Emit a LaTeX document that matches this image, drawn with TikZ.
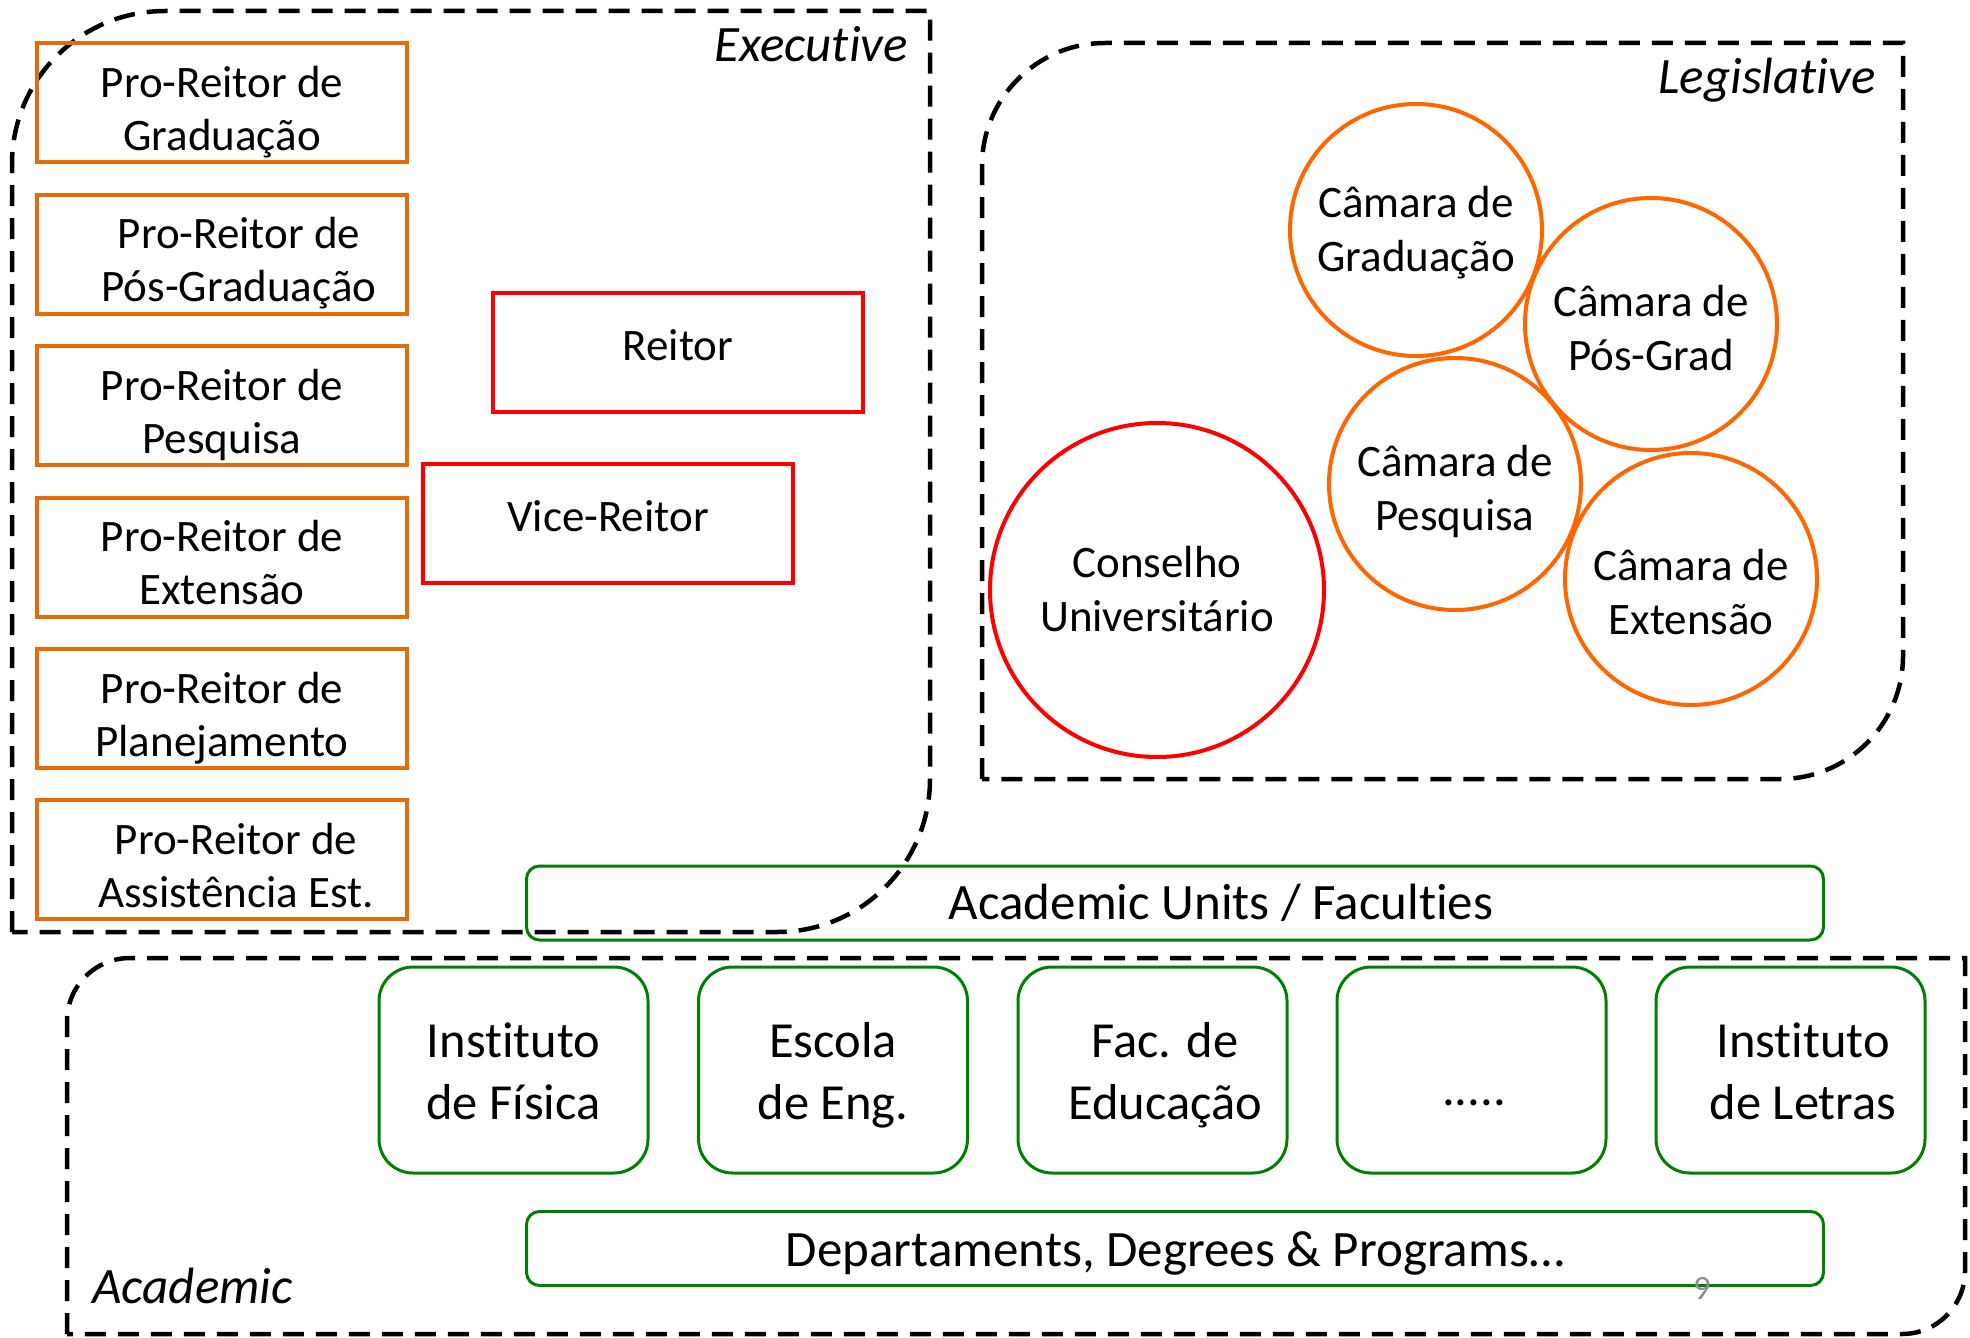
\documentclass[tikz,border=0pt]{standalone}
\usepackage{fontspec}
\setmainfont{Carlito}[Ligatures=NoCommon]
\definecolor{prorange}{RGB}{228,108,10}
\definecolor{camorange}{RGB}{255,102,0}
\definecolor{redline}{RGB}{255,0,0}
\definecolor{acgreen}{RGB}{0,128,0}
\definecolor{pagegrey}{RGB}{140,140,140}
\tikzset{
  region/.style={draw=black, line width=4.5pt, dash pattern=on 21pt off 12pt},
  prbox/.style={draw=prorange, line width=4pt, minimum width=370pt, minimum height=119pt, inner sep=0pt, align=center, font=\fontsize{45}{53}\selectfont, text height=105pt, text depth=10pt},
  redbox/.style={draw=redline, line width=4pt, minimum width=370pt, minimum height=119pt, inner sep=0pt, align=center, font=\fontsize{45}{53}\selectfont, text height=30pt, text depth=15pt},
  camara/.style={circle, draw=camorange, line width=4pt, minimum size=252pt, inner sep=0pt, align=center, font=\fontsize{45}{54}\selectfont, text height=93pt, text depth=10pt},
  conselho/.style={circle, draw=redline, line width=4pt, minimum size=334pt, inner sep=0pt, align=center, font=\fontsize{45}{54}\selectfont, text height=93pt, text depth=10pt},
  faculty/.style={draw=acgreen, line width=3pt, rounded corners=34pt, minimum width=269pt, minimum height=206pt, inner sep=0pt, align=center, font=\fontsize{50.5}{61.6}\selectfont, text height=109pt, text depth=10pt},
  bar/.style={draw=acgreen, line width=3pt, rounded corners=13pt, minimum width=1297pt, minimum height=74pt, inner sep=0pt, align=center, font=\fontsize{51}{60}\selectfont},
  regionlabel/.style={font=\fontsize{51}{60}\selectfont\itshape, inner sep=0pt},
}
\begin{document}
\begin{tikzpicture}[x=1pt,y=-1pt]
\path[use as bounding box] (0,0) rectangle (1970,1338);

% Executive region
\draw[region] (12,932) -- (12,164) arc(180:270:153) -- (930,11) -- (930,779) arc(0:90:153) -- cycle;
\node[regionlabel, anchor=base east] (exlabel) at (908,62) {Executive};

% Legislative region
\draw[region] (982,779) -- (982,166) arc(180:270:123) -- (1903,43) -- (1903,656) arc(0:90:123) -- cycle;
\node[regionlabel, anchor=base east] (leglabel) at (1876,93) {Legislative};

% Academic region
\draw[region] (67,1334) -- (67,1021) arc(180:270:63) -- (1965,958) -- (1965,1271) arc(0:90:63) -- cycle;
\node[regionlabel, anchor=base west] (aclabel) at (92,1303) {Academic};

% Pro-Reitores
\node[prbox] (pr1) at (222,102.5) {Pro-Reitor de\\Graduação};
\node[prbox] (pr2) at (222,254.1) {\hspace*{34pt}Pro-Reitor de\\\hspace*{34pt}Pós-Graduação};
\node[prbox] (pr3) at (222,405.7) {Pro-Reitor de\\Pesquisa};
\node[prbox] (pr4) at (222,557.3) {Pro-Reitor de\\Extensão};
\node[prbox] (pr5) at (222,708.9) {Pro-Reitor de\\Planejamento};
\node[prbox] (pr6) at (222,859.5) {\hspace*{28pt}Pro-Reitor de\\\hspace*{28pt}Assistência Est.};

% Reitor / Vice-Reitor
\node[redbox] (reitor) at (678,352.5) {Reitor};
\node[redbox] (vice) at (608,523.5) {Vice-Reitor};

% Legislative bodies
\node[camara] (cgrad) at (1416,230) {Câmara de\\Graduação};
\node[camara, text height=103pt] (cpos) at (1651,324) {Câmara de\\Pós-Grad};
\node[camara, text height=103pt] (cpesq) at (1455,484) {Câmara de\\Pesquisa};
\node[camara, text height=121pt] (cext) at (1691,579) {Câmara de\\Extensão};
\node[conselho] (consu) at (1157,590) {Conselho\\Universitário};

% Academic units
\node[bar, text height=43pt, text depth=10pt] (units) at (1175,903) {\hspace*{92pt}Academic Units / Faculties};
\node[faculty] (fis) at (513.5,1070) {Instituto\\de Física};
\node[faculty] (eng) at (833,1070) {Escola\\de Eng.};
\node[faculty] (edu) at (1152.5,1070) {\hspace*{25pt}Fac. de\\\hspace*{25pt}Educação};
\node[faculty, text height=80pt, text depth=10pt] (dots) at (1471.5,1070) {\hspace*{5pt}.....};
\node[faculty] (let) at (1790.5,1070) {\hspace*{25pt}Instituto\\\hspace*{25pt}de Letras};
\node[bar, text height=45pt, text depth=10pt] (deps) at (1175,1248.5) {Departaments, Degrees \& Programs…};

\node[text=pagegrey, font=\fontsize{34}{40}\selectfont, inner sep=0pt] (pagenum) at (1702,1288) {9};
\end{tikzpicture}
\end{document}
